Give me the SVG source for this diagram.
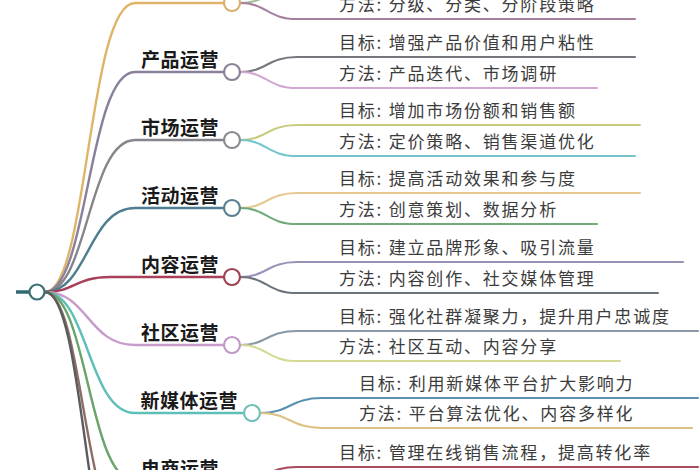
<svg xmlns="http://www.w3.org/2000/svg" width="700" height="470" viewBox="0 0 700 470">
<style>
  .bg { fill: #ffffff; }
  .ln { fill: none; stroke-width: 2.4; stroke-linecap: round; }
  .cl { fill: none; stroke-width: 2.1; stroke-linecap: round; }
  .dot { fill: #ffffff; stroke-width: 2.2; }
  .lbl { font-family: "Noto Sans CJK SC", "Noto Sans", sans-serif; font-size: 19px; font-weight: bold; fill: #1a1a1a; text-anchor: end; letter-spacing: 0.5px; }
  .txt { font-family: "Noto Sans CJK SC", "Noto Sans", sans-serif; font-size: 17px; fill: #3c3c3c; letter-spacing: 1.8px; }
</style>
<rect class="bg" x="0" y="0" width="700" height="470"/>
<g id="connectors">
  <!-- root stub -->
  <path d="M 16 292 L 30 292" fill="none" stroke="#2f6a72" stroke-width="3.5"/>
  <!-- main branches -->
  <path class="ln" stroke="#e0b468" d="M 45 292 C 88 292, 88 3, 135 3 L 224 3"/>
  <path class="ln" stroke="#8a809c" d="M 45 292 C 88 292, 88 72, 135 72 L 224 72"/>
  <path class="ln" stroke="#85858c" d="M 45 292 C 88 292, 88 140, 135 140 L 224 140"/>
  <path class="ln" stroke="#4f7e90" d="M 45 292 C 88 292, 88 208, 135 208 L 224 208"/>
  <path class="ln" stroke="#a8405a" d="M 45 292 C 75 292, 75 277, 110 277 L 224 277"/>
  <path class="ln" stroke="#c79ccc" d="M 45 292 C 88 292, 88 345, 135 345 L 224 345"/>
  <path class="ln" stroke="#5cc0b8" d="M 45 292 C 88 292, 88 413, 135 413 L 244 413"/>
  <path class="ln" stroke="#6aa468" d="M 45 292 C 88 292, 88 481, 135 481 L 224 481"/>
  <path class="ln" stroke="#8a6e64" d="M 45 292 C 84 292, 84 549, 135 549 L 224 549"/>
  <path class="ln" stroke="#5c5c60" d="M 45 292 C 86 292, 86 617, 135 617 L 224 617"/>
  <!-- child branches -->
  <path class="cl" stroke="#a4bc98" d="M 240 3 C 267 3, 267 -12, 297 -12 L 635 -12"/>
  <path class="cl" stroke="#a8809e" d="M 240 3 C 267 3, 267 19, 297 19 L 635 19"/>
  <path class="cl" stroke="#76767e" d="M 240 72 C 267 72, 267 57, 297 57 L 635 57"/>
  <path class="cl" stroke="#d0a8d2" d="M 240 72 C 267 72, 267 88, 297 88 L 597 88"/>
  <path class="cl" stroke="#c9cc80" d="M 240 140 C 267 140, 267 125, 297 125 L 640 125"/>
  <path class="cl" stroke="#74c6cc" d="M 240 140 C 267 140, 267 156, 297 156 L 635 156"/>
  <path class="cl" stroke="#e6c890" d="M 240 208 C 267 208, 267 193, 297 193 L 640 193"/>
  <path class="cl" stroke="#72aa7a" d="M 240 208 C 267 208, 267 224, 297 224 L 597 224"/>
  <path class="cl" stroke="#9a92b8" d="M 240 277 C 267 277, 267 262, 297 262 L 683 262"/>
  <path class="cl" stroke="#6c747c" d="M 240 277 C 267 277, 267 293, 297 293 L 658 293"/>
  <path class="cl" stroke="#8a98a8" d="M 240 345 C 267 345, 267 331, 297 331 L 698 331"/>
  <path class="cl" stroke="#d4da94" d="M 240 345 C 267 345, 267 361, 297 361 L 620 361"/>
  <path class="cl" stroke="#5a90b0" d="M 260 413 C 290 413, 290 398, 322 398 L 698 398"/>
  <path class="cl" stroke="#dcc084" d="M 260 413 C 290 413, 290 428, 322 428 L 692 428"/>
  <path class="cl" stroke="#a84c5e" d="M 240 481 C 267 481, 267 467, 297 467 L 698 467"/>
</g>
<g id="root">
  <circle class="dot" cx="37" cy="292" r="7.5" stroke="#3a6e74"/>
</g>
<g id="branch-top">
  <circle class="dot" cx="232" cy="3" r="8" stroke="#d8b070"/>
</g>
<g id="branch-product">
  <circle class="dot" cx="232" cy="72" r="8" stroke="#8a8098"/>
  <text class="lbl" x="219" y="67">产品运营</text>
</g>
<g id="branch-market">
  <circle class="dot" cx="232" cy="140" r="8" stroke="#8a8a90"/>
  <text class="lbl" x="219" y="135">市场运营</text>
</g>
<g id="branch-event">
  <circle class="dot" cx="232" cy="208" r="8" stroke="#5a8090"/>
  <text class="lbl" x="219" y="203">活动运营</text>
</g>
<g id="branch-content">
  <circle class="dot" cx="232" cy="277" r="8" stroke="#a04052"/>
  <text class="lbl" x="219" y="272">内容运营</text>
</g>
<g id="branch-community">
  <circle class="dot" cx="232" cy="345" r="8" stroke="#c098c8"/>
  <text class="lbl" x="219" y="340">社区运营</text>
</g>
<g id="branch-newmedia">
  <circle class="dot" cx="252" cy="413" r="8" stroke="#70c0b8"/>
  <text class="lbl" x="238" y="408">新媒体运营</text>
</g>
<g id="branch-ecommerce">
  <circle class="dot" cx="232" cy="481" r="8" stroke="#6aa468"/>
  <text class="lbl" x="219" y="476">电商运营</text>
</g>
<g id="leaf-top-method"><text class="txt" x="339" y="11">方法: 分级、分类、分阶段策略</text></g>
<g id="leaf-product-goal"><text class="txt" x="339" y="49">目标: 增强产品价值和用户粘性</text></g>
<g id="leaf-product-method"><text class="txt" x="339" y="80">方法: 产品迭代、市场调研</text></g>
<g id="leaf-market-goal"><text class="txt" x="339" y="117">目标: 增加市场份额和销售额</text></g>
<g id="leaf-market-method"><text class="txt" x="339" y="148">方法: 定价策略、销售渠道优化</text></g>
<g id="leaf-event-goal"><text class="txt" x="339" y="185">目标: 提高活动效果和参与度</text></g>
<g id="leaf-event-method"><text class="txt" x="339" y="216">方法: 创意策划、数据分析</text></g>
<g id="leaf-content-goal"><text class="txt" x="339" y="254">目标: 建立品牌形象、吸引流量</text></g>
<g id="leaf-content-method"><text class="txt" x="339" y="285">方法: 内容创作、社交媒体管理</text></g>
<g id="leaf-community-goal"><text class="txt" x="339" y="323">目标: 强化社群凝聚力，提升用户忠诚度</text></g>
<g id="leaf-community-method"><text class="txt" x="339" y="353">方法: 社区互动、内容分享</text></g>
<g id="leaf-newmedia-goal"><text class="txt" x="359" y="390">目标: 利用新媒体平台扩大影响力</text></g>
<g id="leaf-newmedia-method"><text class="txt" x="359" y="420">方法: 平台算法优化、内容多样化</text></g>
<g id="leaf-ecommerce-goal"><text class="txt" x="339" y="459">目标: 管理在线销售流程，提高转化率</text></g>
</svg>
